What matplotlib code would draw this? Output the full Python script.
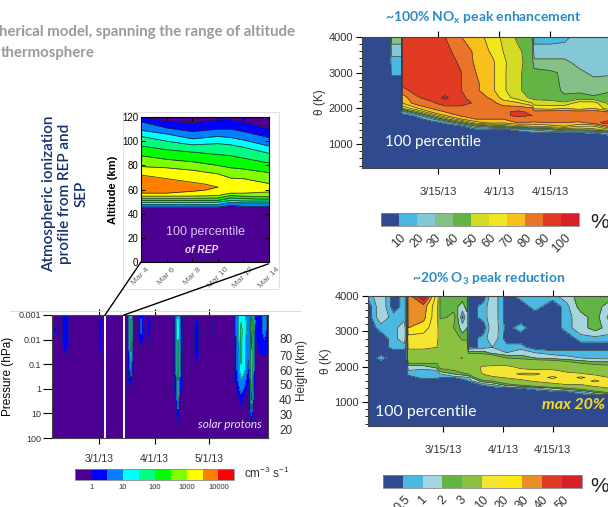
from matplotlib import pyplot as plt
from matplotlib.colors import ListedColormap, BoundaryNorm
from matplotlib.cm import ScalarMappable
from matplotlib.lines import Line2D
from matplotlib.patches import Rectangle
import numpy as np

W, H = 608, 507

# ---------- REP panel: altitude of every contour edge (km) per day of March
rep_days = [4, 6, 8, 10, 11, 12, 14]
rep_edges = [
    [120, 117, 115, 118, 118, 116, 110],
    [116, 111, 108, 110, 110, 108, 103],
    [109, 106, 102, 104, 103, 101, 96],
    [104, 100, 97, 98, 97, 95, 90],
    [96, 93, 91, 89, 88, 86, 82],
    [88, 85, 83, 80, 78, 77, 74],
    [79, 78, 76, 73, 69.5, 69, 65],
    [54.5, 54.5, 54.6, 55, 57, 57, 58],
    [52.7, 52.7, 52.7, 53, 55, 54.5, 54],
    [51, 51, 51, 51, 53, 52.5, 52],
    [49.4, 49.4, 49.4, 49.5, 51, 50.5, 50.5],
    [47.7, 47.7, 47.5, 47.5, 49.5, 49, 49],
    [45.5, 45.5, 45.5, 45.5, 47, 46, 46],
]
rep_colors = ['#0000ff', '#0080ff', '#00ffff', '#00ff80', '#00ff00', '#80ff00',
              '#ffff00', '#80ff00', '#00ff00', '#00ff80', '#00ffff', '#0080ff']
orange_days = [4, 6, 8, 9, 10]
orange_top = [72, 69, 66, 64.5, 62]
orange_bottom = [57, 57, 58.5, 59.5, 62]
rep_ticks = [4, 6, 8, 10, 12, 14]
rep_labels = ['Mar 4', 'Mar 6', 'Mar 8', 'Mar 10', 'Mar 12', 'Mar 14']

# ---------- solar protons panel: log10 of the rate, one profile per day (day 0 = 3/1/13)
sep_logp = [-3, -2.7, -2.4, -2, -1.6, -1.2, -.8, -.4, 0, .4, .8, 1.2, 1.6, 2]


def prof(*v):
    return list(v) + [-.1] * (14 - len(v))


sep_days = [-26, -24.7, -24, -23.3, -20.6, -18.5, -16.4, 0, .9, 1.8, 16, 16.9, 17.8, 18.7, 19.4,
            22, 23.5, 25, 25.9, 26.4, 27, 27.8, 28.6, 42, 43, 44, 45, 46.6, 53, 54.3, 55.6,
            62.5, 63, 63.5, 75, 76, 77.5, 79, 81, 83, 84, 84.8, 86, 87, 89.5, 92, 94]
sep_z = [
    prof(), prof(),
    prof(-.1, -.1, .3, -.1), prof(),
    prof(),
    prof(.5, .5, .5, .45, .1),
    prof(),
    prof(),
    prof(-.1, .3, .4, .4, .1),
    prof(),
    prof(),
    prof(.7, .7, .7, .7, .6, .5, .2, .1),
    prof(1.2, 1.9, 1.9, 1.9, 1.6, 1.2, .9, .4),
    prof(.7, .8, .8, .7, .6, .3),
    prof(),
    prof(),
    prof(.4, .6, .6, .3),
    prof(),
    prof(-.1, -.1, .1),
    prof(),
    prof(),
    prof(.3, .45, .4, .1),
    prof(),
    prof(),
    prof(.7, .8, .9, .9, .9, .8, .7, .5, .3, .1),
    prof(1.2, 1.4, 1.45, 1.5, 1.55, 1.55, 1.55, 1.55, 1.3, 1.1, .5, .1),
    prof(.7, .8, .9, .9, .9, .8, .7, .5, .3),
    prof(),
    prof(),
    prof(-.1, .2, .4, .4, .3, .1),
    prof(),
    prof(),
    prof(-.1, .2, .2),
    prof(),
    prof(),
    prof(.5, .6, .5, .4, .3, .3, .3, .2),
    prof(1.0, .9, .9, .8, .7, .7, .7, .6, .3),
    prof(1.1, 1.5, 1.6, 1.6, 1.6, 1.6, 1.4, 1.0, .7, .3),
    prof(1.1, 1.3, 1.3, 1.2, 1.2, 1.2, 1.1, .8, .4),
    prof(.7, .6, .6, .6, .6, .5, .4, .1),
    prof(.9, .9, .8, .7, .7, .7, .6, .5, .5, .4, .2),
    prof(1.9, 2.4, 2.4, 2.2, 2.0, 2.0, 2.0, 2.0, 1.9, 1.6, 1.1, .2),
    prof(1.0, 1.3, 1.3, 1.0, .9, .8, .7, .5, .3, .1),
    prof(.3, .3, .1),
    prof(.3, .3, .3, .3, .1),
    prof(.7, .7, .7, .5, .2),
    prof(.4, .4, .3, .2, .1),
]
sep_levels = [-1, 0, .5, 1, 1.5, 2, 2.5, 3, 3.5, 4, 4.5]
sep_colors = ['#4b0091', '#0000ff', '#0080ff', '#00ffff', '#00ff80', '#00ff00',
              '#80ff00', '#ffff00', '#ff8000', '#ff0000']
sep_p_ticks = [-3, -2, -1, 0, 1, 2]
sep_p_labels = ['0.001', '0.01', '0.1', '1', '10', '100']
sep_x_ticks = [0, 31, 61]
sep_x_labels = ['3/1/13', '4/1/13', '5/1/13']
height_pos = [1.66, 1.035, .437, -.16, -.73, -1.37, -2.06]
height_labels = ['20', '30', '40', '50', '60', '70', '80']
sep_gap_days = [3.7, 14]
sep_bar_ticks = ['1', '', '10', '', '100', '', '1000', '', '10000']

# ---------- NOx panel (percent), day 0 = 3/15/13
nox_days = [-21, -13.2, -12.8, -10.1, -9.9, -6, -2, 2, 6.5, 10.5, 15, 18, 22, 26, 26.6, 31, 35, 39, 43, 47]
nox_theta = [4000, 3600, 3300, 3000, 2700, 2500, 2300, 2150, 2000, 1900, 1800, 1700, 1600, 1500, 1400, 1300, 1200, 330]
nox_z = [
    [5, 5, 35, 35, 95, 95, 95, 90, 80, 75, 65, 58, 48, 42, 15, 15, 17, 25, 25, 25],
    [5, 5, 25, 25, 95, 95, 95, 93, 85, 78, 68, 60, 52, 45, 25, 25, 25, 25, 25, 25],
    [5, 5, 15, 15, 95, 95, 95, 95, 88, 78, 72, 62, 53, 45, 32, 32, 32, 27, 25, 25],
    [5, 5, 12, 12, 95, 95, 95, 95, 90, 80, 72, 62, 52, 45, 45, 42, 38, 32, 28, 28],
    [5, 5, 5, 5, 95, 95, 95, 95, 90, 82, 72, 62, 52, 45, 45, 45, 37, 35, 33, 35],
    [5, 5, 5, 5, 85, 95, 95, 95, 90, 82, 72, 62, 52, 45, 45, 45, 38, 38, 35, 38],
    [5, 5, 5, 5, 75, 88, 95, 102, 92, 85, 78, 66, 55, 48, 47, 45, 42, 44, 42, 45],
    [5, 5, 5, 5, 70, 85, 87, 96, 96, 87, 83, 75, 72, 60, 55, 55, 52, 65, 65, 48],
    [5, 5, 5, 5, 50, 68, 80, 85, 85, 85, 87, 85, 85, 82, 68, 65, 70, 65, 70, 55],
    [5, 5, 5, 5, 15, 45, 70, 80, 85, 85, 85, 88, 92, 88, 85, 87, 87, 85, 87, 80],
    [5, 5, 5, 5, 5, 12, 45, 70, 82, 85, 85, 88, 92, 90, 88, 90, 90, 85, 85, 88],
    [5, 5, 5, 5, 5, 5, 15, 45, 70, 80, 80, 80, 85, 88, 88, 85, 85, 85, 85, 85],
    [5, 5, 5, 5, 5, 5, 5, 12, 40, 65, 75, 72, 80, 78, 78, 80, 80, 78, 85, 95],
    [5, 5, 5, 5, 5, 5, 5, 5, 8, 30, 40, 45, 55, 60, 60, 65, 70, 60, 60, 80],
    [5, 5, 5, 5, 5, 5, 5, 5, 5, 5, 5, 8, 12, 20, 22, 30, 40, 40, 45, 55],
    [5, 5, 5, 5, 5, 5, 5, 5, 5, 5, 5, 5, 5, 5, 5, 5, 5, 5, 8, 15],
    [5] * 20,
    [5] * 20,
]
nox_levels = [0, 10, 20, 30, 40, 50, 60, 70, 80, 90, 100, 110]
nox_colors = ['#2f4a8f', '#4ab8e0', '#85c8d5', '#85c088', '#62b445', '#d3db27',
              '#f2e620', '#f8c01b', '#ea7427', '#e13a22', '#d72027']
nox_bar_ticks = ['10', '20', '30', '40', '50', '60', '70', '80', '90', '100']

# ---------- O3 panel (percent), day 0 = 3/15/13
o3_days = [-21, -17.5, -14, -11, -10.2, -9.8, -5.5, -1.7, -.8, 3, 5.5, 6.8, 7.2, 11.5, 14, 18, 22, 26, 31, 35, 39, 43, 47]
o3_theta = [4000, 3700, 3400, 3100, 2800, 2550, 2400, 2250, 2100, 2000, 1900, 1800, 1700, 1600, 1500, 1400, 1300, 1200, 330]
o3_z = [
    [.7, 1.5, .2, .7, .2, 35, 60, 15, 2.5, 2.5, 2.5, 2.5, .2, .2, 1.5, .2, .7, .7, .7, 1.5, 2.5, 2.5, 2.5],
    [.2, 1.5, .2, .7, .2, 35, 35, 12, 2.5, 2.5, 1.5, 2.5, .2, .7, 1.5, .2, .2, .7, .2, .7, 2.5, 2.5, 1.5],
    [.2, 1.5, .7, .7, .2, 35, 33, 12, 2.5, 3.5, .3, 1.5, .2, .7, 1.5, .2, .2, .2, .2, .7, 1.5, 2.5, .7],
    [.2, .7, .7, 1.5, .2, 30, 25, 12, 6, 3, 1.5, 2, .2, .2, 1.5, .3, .7, .2, .2, .7, 1.5, 2.5, 1.5],
    [.2, .2, .7, 1.5, .2, 15, 15, 12, 6, 5, 2.5, 2.7, .2, .7, 1.5, .2, .2, .2, .2, .2, .7, .7, .7],
    [.2, .2, .7, .7, .2, 12, 12, 10, 6, 5, 5, 5, .2, .7, 1, .7, .7, .2, .2, .2, .2, .2, .2],
    [.2, .2, .2, .2, .2, 6, 6, 6, 6, 6, 6, 6, 2.5, 2.5, 1.5, 1, 1.5, 1, .7, .7, .7, .7, .7],
    [.2, .7, .2, .2, .2, 6, 6, 6, 6, 7, 11, 6, 6, 5, 5, 3, 2.5, 2, 1.5, 1.2, 1, .8, .7],
    [.2, .2, .2, .2, .2, 3, 3, 3, 5, 6, 6, 6, 6, 6, 6, 6, 6, 5, 5, 4, 3, 2.5, 2.5],
    [.2, .2, .2, .2, .2, 1.5, 1.5, 2.5, 3.5, 5, 6, 6, 6, 11, 12, 12, 8, 6, 6, 6, 5, 4, 3.5],
    [.2, .2, .2, .2, .2, 1, .8, 1, 2.5, 3, 4, 5, 6, 11, 13, 15, 12, 11, 11, 8, 6, 6, 5],
    [.2, .2, .2, .2, .2, .7, .7, .7, 1, 2, 2.5, 3, 3, 10.5, 15, 15, 22, 22, 15, 12, 11, 8, 6],
    [.2, .2, .2, .2, .2, .2, .7, .6, .5, .5, .7, 1, 1, 6, 8, 11, 13, 15, 22, 15, 22, 15, 10],
    [.2, .2, .2, .2, .2, .2, .2, .2, .2, .2, .3, .4, .5, 2.5, 3, 5, 8, 11, 15, 15, 15, 22, 15],
    [.2, .2, .2, .2, .2, .2, .2, .2, .2, .2, .2, .2, .2, .6, 1, 2.5, 3.5, 5, 7, 10, 10, 15, 15],
    [.2, .2, .2, .2, .2, .2, .2, .2, .2, .2, .2, .2, .2, .2, .2, .3, .5, .8, 2, 3, 4, 6, 10],
    [.2, .2, .2, .2, .2, .2, .2, .2, .2, .2, .2, .2, .2, .2, .2, .2, .2, .2, .3, .5, 1, 2.5, 4],
    [.2] * 23,
    [.2] * 23,
]
o3_levels = [0, .5, 1, 2, 3, 10, 20, 30, 40, 50, 70]
o3_colors = ['#2f4a8f', '#4ab8e0', '#a5d6df', '#62b445', '#8cc040', '#f5e532',
             '#f9e816', '#ea8f25', '#e13a22', '#d72027']
o3_bar_ticks = ['0.5', '1', '2', '3', '10', '20', '30', '40', '50']

theta_ticks = [1000, 2000, 3000, 4000]
date_ticks = [0, 17, 31]
date_labels = ['3/15/13', '4/1/13', '4/15/13']

plt.rcParams['font.family'] = ['Liberation Sans', 'DejaVu Sans']
plt.rcParams['mathtext.default'] = 'regular'
fig = plt.figure(figsize=(W / 100, H / 100), dpi=100)


def px_axes(x0, y0, x1, y1):
    return fig.add_axes([x0 / W, 1 - y1 / H, (x1 - x0) / W, (y1 - y0) / H])


def fig_text(x, y, s, **kw):
    return fig.text(x / W, 1 - y / H, s, **kw)


def fig_line(xs, ys, **kw):
    fig.add_artist(Line2D([x / W for x in xs], [1 - y / H for y in ys], **kw))


def theta_panel(box, days, theta, z, levels, colors, xlim):
    ax = px_axes(*box)
    ax.contourf(days, theta, z, levels=levels, colors=colors)
    ax.contour(days, theta, z, levels=levels[1:-1], colors='#3c3c3c', linewidths=.5)
    ax.set_xlim(*xlim)
    ax.set_ylim(330, 4000)
    ax.set_yticks(theta_ticks)
    ax.set_yticks(range(400, 4000, 200), minor=True)
    ax.tick_params(axis='y', which='major', length=4.5, width=.8, labelsize=8, labelcolor='#333333', pad=2)
    ax.tick_params(axis='y', which='minor', length=2.5, width=.6)
    ax.set_xticks(date_ticks, date_labels)
    ax.tick_params(axis='x', top=True, length=4.5, width=.8, labelsize=8, labelcolor='#333333', pad=9)
    for s in ax.spines.values():
        s.set_linewidth(.8)
        s.set_color('#444444')
    return ax


def bar_axes(box, levels, colors, labels, **kw):
    cax = px_axes(*box)
    cmap = ListedColormap(colors)
    norm = BoundaryNorm(levels, cmap.N)
    cb = fig.colorbar(ScalarMappable(norm=norm, cmap=cmap), cax=cax, orientation='horizontal',
                      spacing='uniform', ticks=levels[1:1 + len(labels)])
    cb.set_ticklabels(labels)
    cb.minorticks_off()
    cb.outline.set_linewidth(.6)
    cb.outline.set_edgecolor('#888888')
    cax.tick_params(length=0, **kw)
    return cb


# ---------- header and side title
fig_text(-1, 32, 'herical model, spanning the range of altitude', family='Lato', weight='bold',
         fontsize=10.8, color='#9a9a9a', va='center')
fig_text(1, 53, 'thermosphere', family='Lato', weight='bold', fontsize=10.8, color='#9a9a9a', va='center')
fig_text(65, 194, 'Atmospheric ionization\nprofile from REP and\nSEP', family='Lato', weight='semibold',
         fontsize=11, color='#16306e', rotation=90, ha='center', va='center', linespacing=1.2)

# ---------- REP inset
fig.add_artist(Rectangle((123 / W, 1 - 289 / H), 156 / W, 177 / H, fc='white', ec='#e2e2e2', lw=.8,
                         transform=fig.transFigure, zorder=-1))
ax = px_axes(141, 117, 269, 262)
ax.set_facecolor('#4b0091')
for i, c in enumerate(rep_colors):
    ax.fill_between(rep_days, rep_edges[i], rep_edges[i + 1], color=c, lw=0)
ax.fill_between(orange_days, orange_top, orange_bottom, color='#ff8000', lw=0)
for e in rep_edges:
    ax.plot(rep_days, e, color='#222222', lw=.5)
ax.plot(orange_days, orange_top, color='#222222', lw=.5)
ax.plot(orange_days, orange_bottom, color='#222222', lw=.5)
ax.set_xlim(4, 14)
ax.set_ylim(0, 120)
ax.set_yticks(range(0, 121, 20))
ax.tick_params(axis='y', direction='in', right=True, length=3, width=.7, labelsize=7, pad=2)
ax.set_xticks(rep_ticks, rep_labels, rotation=45, ha='center')
ax.tick_params(axis='x', direction='in', top=True, length=3, width=.7, labelsize=6, labelcolor='#666666', pad=3)
ax.set_ylabel('Altitude (km)', fontsize=8, weight='bold', labelpad=3)
ax.text(.5, .207, '100 percentile', transform=ax.transAxes, ha='center', va='center',
        fontsize=9, color='#d8c8ee')
ax.text(.47, .083, 'of REP', transform=ax.transAxes, ha='center', va='center',
        fontsize=7.3, color='#e8dcf5', style='italic', weight='bold')

# ---------- solar protons panel
fig_line([10, 300], [311, 311], color='#dddddd', lw=.8)
ax = px_axes(52, 315, 268, 438)
z = np.array(sep_z).T
ax.contourf(sep_days, sep_logp, z, levels=sep_levels, colors=sep_colors)
ax.contour(sep_days, sep_logp, z, levels=sep_levels[1:-1], colors='#333333', linewidths=.35)
for d in sep_gap_days:
    ax.axvline(d, color='white', lw=1.4)
ax.set_xlim(-26, 94)
ax.set_ylim(2, -3)
ax.set_yticks(sep_p_ticks, sep_p_labels)
ax.tick_params(axis='y', length=6.5, width=.8, labelsize=6.5, pad=1, labelcolor='#333333')
ax.set_xticks(sep_x_ticks, sep_x_labels)
ax.tick_params(axis='x', top=True, length=4.5, width=.8, labelsize=7.5, pad=7, labelcolor='#333333')
ax.set_ylabel('Pressure (hPa)', fontsize=8.5, labelpad=4)
ax.yaxis.set_label_coords(-38 / 216, .5)
for s in ax.spines.values():
    s.set_linewidth(.8)
    s.set_color('#444444')
ax.text(.97, .11, 'solar protons', transform=ax.transAxes, ha='right', va='center',
        family='Lato', fontsize=8.5, color='#ece4f7', style='italic')
ax2 = ax.twinx()
ax2.set_ylim(2, -3)
ax2.set_yticks(height_pos, height_labels)
ax2.tick_params(axis='y', length=0, labelsize=8.5, pad=8, labelcolor='#333333')
ax2.set_ylabel('Height (km)', fontsize=8.5, labelpad=1, color='#333333')
ax2.yaxis.set_label_coords(1 + 28 / 216, .55)
for s in ax2.spines.values():
    s.set_visible(False)
fig_line([141, 105], [262, 315], color='black', lw=1)
fig_line([268, 124], [264, 315], color='black', lw=1)
bar_axes((75.3, 469, 234.3, 480), sep_levels, sep_colors, sep_bar_ticks,
         labelsize=5.5, labelcolor='#333333', pad=3)
fig_text(244, 473, 'cm$^{-3}$ s$^{-1}$', fontsize=8.5, color='#333333', va='center')

# ---------- NOx panel
fig_text(483, 17.5, '~100% NO$_{x}$ peak enhancement', family='Lato', weight='bold', fontsize=10,
         color='#2b8cc4', ha='center', va='center')
ax = theta_panel((362, 37, 612, 168), nox_days, nox_theta, nox_z, nox_levels, nox_colors, (-21, 48.1))
ax.set_ylabel('\u03b8 (K)', fontsize=8.5, labelpad=2, color='#333333')
ax.text(.092, .2, '100 percentile', transform=ax.transAxes, family='Lato', fontsize=10.8,
        color='white', va='center')
bar_axes((380.7, 213, 579, 226), nox_levels, nox_colors, nox_bar_ticks, labelsize=9, labelcolor='#333333', pad=4, labelrotation=45)
fig_text(590, 222, '%', fontsize=15, color='#222222', ha='left', va='center')

# ---------- O3 panel
fig_text(489, 279, '~20% O$_{3}$ peak reduction', family='Lato', weight='bold', fontsize=10,
         color='#2b8cc4', ha='center', va='center')
ax = theta_panel((368, 296, 612, 426), o3_days, o3_theta, o3_z, o3_levels, o3_colors, (-21.2, 47.8))
ax.set_ylabel('\u03b8 (K)', fontsize=8.5, labelpad=2, color='#333333')
ax.text(.03, .11, '100 percentile', transform=ax.transAxes, family='Lato', fontsize=11.4,
        color='white', va='center')
ax.text(.715, .165, 'max 20%', transform=ax.transAxes, family='Lato', fontsize=11.5, weight='bold',
        style='italic', color='#f7dc1e', va='center')
bar_axes((382.7, 475, 581.7, 488), o3_levels, o3_colors, o3_bar_ticks, labelsize=9, labelcolor='#333333', pad=4, labelrotation=45)
fig_text(590, 486, '%', fontsize=15, color='#222222', ha='left', va='center')

fig.savefig('out.png', dpi=100)
